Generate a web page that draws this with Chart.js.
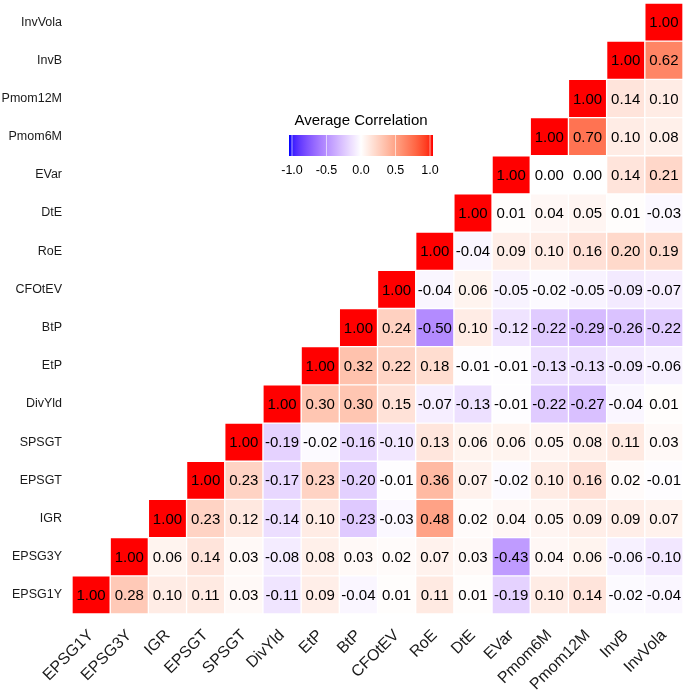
<!DOCTYPE html>
<html>
<head>
<meta charset="utf-8">
<script src="https://cdn.jsdelivr.net/npm/chart.js@4.4.0/dist/chart.umd.min.js"></script>
<style>
  html, body { margin: 0; padding: 0; background: #fff; }
  #wrap { width: 685px; height: 691px; }
</style>
</head>
<body>
<div id="wrap"><canvas id="corrChart" width="685" height="691"></canvas></div>
<script>
// variables, bottom row / left column first
const vars = ['EPSG1Y', 'EPSG3Y', 'IGR', 'EPSGT', 'SPSGT', 'DivYld', 'EtP', 'BtP',
    'CFOtEV', 'RoE', 'DtE', 'EVar', 'Pmom6M', 'Pmom12M', 'InvB', 'InvVola'];

// each row starts at its own diagonal cell
const rEPSG1Y = [1.00, 0.28, 0.10, 0.11, 0.03, -0.11, 0.09, -0.04, 0.01, 0.11, 0.01, -0.19, 0.10, 0.14, -0.02, -0.04];
const rEPSG3Y = [1.00, 0.06, 0.14, 0.03, -0.08, 0.08, 0.03, 0.02, 0.07, 0.03, -0.43, 0.04, 0.06, -0.06, -0.10];
const rIGR = [1.00, 0.23, 0.12, -0.14, 0.10, -0.23, -0.03, 0.48, 0.02, 0.04, 0.05, 0.09, 0.09, 0.07];
const rEPSGT = [1.00, 0.23, -0.17, 0.23, -0.20, -0.01, 0.36, 0.07, -0.02, 0.10, 0.16, 0.02, -0.01];
const rSPSGT = [1.00, -0.19, -0.02, -0.16, -0.10, 0.13, 0.06, 0.06, 0.05, 0.08, 0.11, 0.03];
const rDivYld = [1.00, 0.30, 0.30, 0.15, -0.07, -0.13, -0.01, -0.22, -0.27, -0.04, 0.01];
const rEtP = [1.00, 0.32, 0.22, 0.18, -0.01, -0.01, -0.13, -0.13, -0.09, -0.06];
const rBtP = [1.00, 0.24, -0.50, 0.10, -0.12, -0.22, -0.29, -0.26, -0.22];
const rCFOtEV = [1.00, -0.04, 0.06, -0.05, -0.02, -0.05, -0.09, -0.07];
const rRoE = [1.00, -0.04, 0.09, 0.10, 0.16, 0.20, 0.19];
const rDtE = [1.00, 0.01, 0.04, 0.05, 0.01, -0.03];
const rEVar = [1.00, 0.00, 0.00, 0.14, 0.21];
const rPmom6M = [1.00, 0.70, 0.10, 0.08];
const rPmom12M = [1.00, 0.14, 0.10];
const rInvB = [1.00, 0.62];
const rInvVola = [1.00];

const legendTicks = [-1.0, -0.5, 0.0, 0.5, 1.0];

const rows = [rEPSG1Y, rEPSG3Y, rIGR, rEPSGT, rSPSGT, rDivYld, rEtP, rBtP,
    rCFOtEV, rRoE, rDtE, rEVar, rPmom6M, rPmom12M, rInvB, rInvVola];

// --- colour: blue / white / red gradient interpolated in Lab (like ggplot) ---
function srgbToLab(r, g, b) {
    const lin = c => { c /= 255; return c <= 0.04045 ? c / 12.92 : Math.pow((c + 0.055) / 1.055, 2.4); };
    const R = lin(r), G = lin(g), B = lin(b);
    let x = (R * 0.4124 + G * 0.3576 + B * 0.1805) / 0.95047;
    let y = (R * 0.2126 + G * 0.7152 + B * 0.0722);
    let z = (R * 0.0193 + G * 0.1192 + B * 0.9505) / 1.08883;
    const f = t => t > 0.008856 ? Math.cbrt(t) : 7.787 * t + 16 / 116;
    x = f(x); y = f(y); z = f(z);
    return [116 * y - 16, 500 * (x - y), 200 * (y - z)];
}

function labToRgb(L, a, bb) {
    let y = (L + 16) / 116, x = a / 500 + y, z = y - bb / 200;
    const fi = t => t * t * t > 0.008856 ? t * t * t : (t - 16 / 116) / 7.787;
    x = fi(x) * 0.95047; y = fi(y); z = fi(z) * 1.08883;
    let R = x * 3.2406 + y * -1.5372 + z * -0.4986;
    let G = x * -0.9689 + y * 1.8758 + z * 0.0415;
    let B = x * 0.0557 + y * -0.2040 + z * 1.0570;
    const g = c => {
        c = c <= 0.0031308 ? 12.92 * c : 1.055 * Math.pow(c, 1 / 2.4) - 0.055;
        return Math.round(Math.min(1, Math.max(0, c)) * 255);
    };
    return `rgb(${g(R)}, ${g(G)}, ${g(B)})`;
}

const labWhite = srgbToLab(255, 255, 255);
const labRed = srgbToLab(255, 0, 0);
const labBlue = srgbToLab(0, 0, 255);

function corrColor(v) {
    const end = v >= 0 ? labRed : labBlue;
    const t = Math.min(1, Math.abs(v));
    return labToRgb(
        labWhite[0] + (end[0] - labWhite[0]) * t,
        labWhite[1] + (end[1] - labWhite[1]) * t,
        labWhite[2] + (end[2] - labWhite[2]) * t
    );
}

// one floating-bar dataset per row
const datasets = rows.map((row, i) => {
    const data = vars.map((_, j) => (j >= i ? [i - 0.5, i + 0.5] : null));
    const colors = vars.map((_, j) => (j >= i ? corrColor(row[j - i]) : 'rgba(0,0,0,0)'));
    return {
        label: vars[i],
        data: data,
        values: vars.map((_, j) => (j >= i ? row[j - i] : null)),
        backgroundColor: colors,
        borderColor: 'rgba(255,255,255,0.25)',
        borderWidth: 1,
        borderSkipped: false,
        barPercentage: 1,
        categoryPercentage: 1,
        grouped: false
    };
});

const FONT = '"Liberation Sans", Arial, Helvetica, sans-serif';

// cell labels
const cellText = {
    id: 'cellText',
    afterDatasetsDraw(chart) {
        const ctx = chart.ctx;
        ctx.save();
        ctx.font = `15px ${FONT}`;
        ctx.fillStyle = '#000';
        ctx.textAlign = 'center';
        ctx.textBaseline = 'middle';
        chart.data.datasets.forEach((ds, i) => {
            const meta = chart.getDatasetMeta(i);
            meta.data.forEach((el, j) => {
                const v = ds.values[j];
                if (v === null) return;
                ctx.fillText(v.toFixed(2), el.x, (el.y + el.base) / 2 + 1);
            });
        });
        ctx.restore();
    }
};

// colour bar legend
const colorBar = {
    id: 'colorBar',
    afterDraw(chart) {
        const ctx = chart.ctx;
        const x0 = 289, x1 = 433, y0 = 135, h = 21;
        ctx.save();
        const grad = ctx.createLinearGradient(x0, 0, x1, 0);
        for (let k = 0; k <= 40; k++) {
            grad.addColorStop(k / 40, corrColor(-1 + k / 20));
        }
        ctx.fillStyle = grad;
        ctx.fillRect(x0, y0, x1 - x0, h);

        const inset = 3;
        const pos = v => x0 + inset + (v + 1) / 2 * (x1 - x0 - 2 * inset);
        ctx.strokeStyle = 'rgba(255,255,255,0.6)';
        ctx.lineWidth = 1;
        legendTicks.forEach(v => {
            ctx.beginPath();
            ctx.moveTo(pos(v), y0);
            ctx.lineTo(pos(v), y0 + h);
            ctx.stroke();
        });

        ctx.fillStyle = '#000';
        ctx.textAlign = 'center';
        ctx.textBaseline = 'middle';
        ctx.font = `15px ${FONT}`;
        ctx.fillText('Average Correlation', (x0 + x1) / 2, 121);
        ctx.font = `12.5px ${FONT}`;
        legendTicks.forEach(v => {
            ctx.fillText(v.toFixed(1), pos(v), 171);
        });
        ctx.restore();
    }
};

new Chart(document.getElementById('corrChart'), {
    type: 'bar',
    data: { labels: vars, datasets: datasets },
    plugins: [cellText, colorBar],
    options: {
        responsive: false,
        animation: false,
        layout: { padding: { top: 3, right: 2, left: 0, bottom: 0 } },
        plugins: {
            legend: { display: false },
            tooltip: { enabled: false }
        },
        scales: {
            x: {
                grid: { display: false, drawTicks: false },
                border: { display: false },
                ticks: {
                    color: '#1a1a1a',
                    font: { size: 16, family: FONT },
                    maxRotation: 45,
                    minRotation: 45,
                    padding: 12,
                    autoSkip: false
                },
                afterFit(scale) {
                    scale.height = 77;
                    scale.paddingLeft = 0;
                    scale.paddingRight = 0;
                }
            },
            y: {
                type: 'linear',
                min: -0.5,
                max: 15.5,
                grid: { display: false, drawTicks: false },
                border: { display: false },
                afterBuildTicks(scale) {
                    scale.ticks = vars.map((_, i) => ({ value: i }));
                },
                ticks: {
                    color: '#1a1a1a',
                    font: { size: 12.5, family: FONT },
                    padding: 10,
                    callback: v => vars[v]
                },
                afterFit(scale) {
                    scale.width = 72;
                    scale.paddingTop = 0;
                    scale.paddingBottom = 0;
                }
            }
        }
    }
});
</script>
</body>
</html>
